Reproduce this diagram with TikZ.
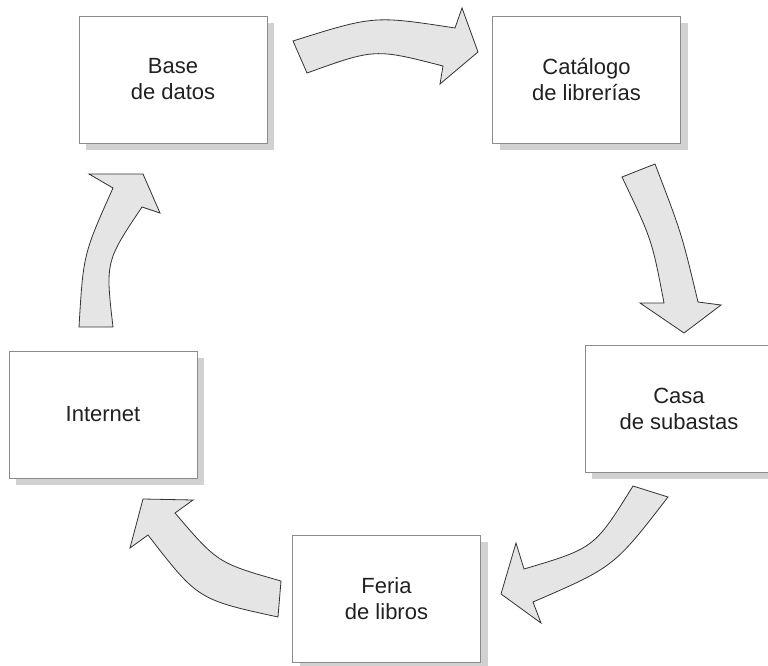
\documentclass[tikz,border=0pt]{standalone}
\usepackage{fontspec}
\setmainfont{Liberation Sans}
\usetikzlibrary{shadows}
\definecolor{boxline}{gray}{0.55}
\definecolor{shade}{gray}{0.82}
\definecolor{arrowfill}{gray}{0.9}
\definecolor{arrowline}{gray}{0.2}
\definecolor{textgray}{gray}{0.13}

\begin{document}
\begin{tikzpicture}[x=1pt,y=-1pt,
    stage/.style={draw=boxline, fill=white, line width=0.9pt,
      minimum width=188pt, minimum height=127pt, align=center,
      text=textgray, font=\fontsize{22}{26}\selectfont,
      drop shadow={shadow xshift=7pt, shadow yshift=-7pt, fill=shade, opacity=1}},
    flow/.style={draw=arrowline, fill=arrowfill, line width=0.8pt}]
    \useasboundingbox (0,0) rectangle (768,666);

    \node[stage] (base) at (173,79.5) {Base\\de datos};
    \node[stage] (catalogo) at (586.5,79.5) {Catálogo\\de librerías};
    \node[stage] (casa) at (679,408.5) {Casa\\de subastas};
    \node[stage] (feria) at (386.5,598.5) {Feria\\de libros};
    \node[stage] (internet) at (103,414.5) {Internet};

    % base -> catalogo
    \draw[flow] (293,41) .. controls (374,15.5) .. (455,28) -- (462,8) -- (478,52)
        -- (440,84) -- (443,66) .. controls (375,48.5) .. (307,73) -- cycle;
    % catalogo -> casa
    \draw[flow] (655,164) .. controls (681.5,233) .. (698,302) -- (721,305) -- (684,333)
        -- (640,303) -- (664,303) .. controls (652,240) .. (622,177) -- cycle;
    % casa -> feria
    \draw[flow] (633,486) -- (668,497) .. controls (614,567) .. (533,602) -- (541,623)
        -- (501,594) -- (516,543) -- (524,569) .. controls (594.4,548.1) .. (633,486) -- cycle;
    % feria -> internet
    \draw[flow] (281,581) -- (278,617) .. controls (198,599.6) .. (148,535) -- (130,548)
        -- (143,499) -- (193,500) -- (175,513) .. controls (217.8,563) .. (281,581) -- cycle;
    % internet -> base
    \draw[flow] (79,327) .. controls (83.3,254.3) .. (113,188) -- (89,174) -- (143,174)
        -- (160,213) -- (142,207) .. controls (105.4,261.6) .. (113,327) -- cycle;
\end{tikzpicture}
\end{document}
